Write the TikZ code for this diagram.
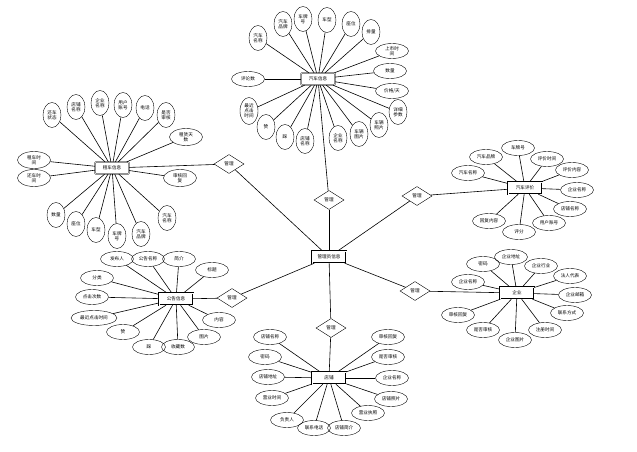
\documentclass[tikz,border=0pt]{standalone}
\usepackage{fontspec}
\newfontfamily\cjk{Noto Sans CJK SC}
\usepackage{tikz}
\usetikzlibrary{shapes.geometric}

\begin{document}
\begin{tikzpicture}[
      x=1pt, y=-1pt,
      every node/.style={font=\cjk\fontsize{4.6}{5.2}\selectfont},
      entbox/.style={
        rectangle, draw, double, double distance=0.6pt,
        minimum width=34pt, minimum height=12pt, inner sep=1pt, fill=white
      },
      relbox/.style={
        diamond, draw, aspect=1.6, inner sep=0pt,
        minimum width=30pt, minimum height=19pt, fill=white
      },
      attr/.style={
        ellipse, draw, inner sep=0pt, align=center,
        minimum width=33pt, minimum height=15pt
      },
      vattr/.style={
        ellipse, draw, inner sep=0pt, align=center,
        minimum width=18pt, minimum height=25pt
      },
      link/.style={semithick}
    ]
    \useasboundingbox (0,0) rectangle (637,452);

    % ===== Centre and relationships =====
    \node[entbox] (admin) at (329,257) {管理员信息};
    \node[relbox] (m1) at (329,200) {管理};
    \node[relbox] (m2) at (229,164) {管理};
    \node[relbox] (m3) at (417,196) {管理};
    \node[relbox] (m4) at (415,291) {管理};
    \node[relbox] (m5) at (331,328) {管理};
    \node[relbox] (m6) at (232,298) {管理};

    % ===== Entities =====
    \node[entbox, rounded corners=1pt] (car) at (318,79) {汽车信息};
    \node[entbox, rounded corners=1pt] (rent) at (112,168) {租车信息};
    \node[entbox] (eval) at (525,188) {汽车评价};
    \node[entbox] (firm) at (517,293) {企业};
    \node[entbox] (shop) at (329,378) {店铺};
    \node[entbox] (notice) at (176,299) {公告信息};

    % ===== Car info attributes =====
    \node[vattr] (c1) at (258,38) {汽车\\名称};
    \node[vattr] (c2) at (283,24) {汽车\\品牌};
    \node[vattr] (c3) at (303,19) {车牌\\号};
    \node[vattr] (c4) at (327,20) {车型};
    \node[vattr] (c5) at (351,24) {座位};
    \node[vattr] (c6) at (371,32) {排量};
    \node[attr] (c7) at (392,51) {上市时\\间};
    \node[attr] (c8) at (390,71) {数量};
    \node[attr] (c9) at (392,91) {价格/天};
    \node[attr] (c10) at (248,79) {评论数};
    \node[vattr, minimum height=27pt] (c11) at (249,111) {最近\\点击\\时间};
    \node[vattr] (c12) at (266,127) {赞};
    \node[vattr] (c13) at (285,137) {踩};
    \node[vattr] (c14) at (305,141) {店铺\\名称};
    \node[vattr] (c15) at (338,138) {企业\\名称};
    \node[vattr] (c16) at (359,134) {车辆\\图片};
    \node[vattr] (c17) at (379,125) {车辆\\照片};
    \node[vattr] (c18) at (398,112) {详细\\参数};

    % ===== Rental info attributes =====
    \node[vattr] (r1) at (52,115) {还车\\状态};
    \node[vattr] (r2) at (76,107) {店铺\\名称};
    \node[vattr] (r3) at (100,103) {企业\\名称};
    \node[vattr] (r4) at (123,105) {用户\\账号};
    \node[vattr] (r5) at (145,108) {电话};
    \node[vattr] (r6) at (166,115) {是否\\审核};
    \node[attr, minimum height=17pt] (r7) at (186,137) {租赁天\\数};
    \node[attr, minimum height=17pt] (r8) at (34,160) {租车时\\间};
    \node[attr, minimum height=17pt] (r9) at (34,178) {还车时\\间};
    \node[attr, minimum height=17pt] (r10) at (180,178) {审核回\\复};
    \node[vattr] (r11) at (56,215) {数量};
    \node[vattr] (r12) at (76,224) {座位};
    \node[vattr] (r13) at (96,230) {车型};
    \node[vattr] (r14) at (117,236) {车牌\\号};
    \node[vattr] (r15) at (141,234) {汽车\\品牌};
    \node[vattr] (r16) at (167,218) {汽车\\名称};

    % ===== Car review attributes =====
    \node[attr] (e1) at (468,173) {汽车名称};
    \node[attr] (e2) at (486,157) {汽车品牌};
    \node[attr] (e3) at (518,148) {车牌号};
    \node[attr] (e4) at (547,159) {评价时间};
    \node[attr] (e5) at (572,170) {评价内容};
    \node[attr] (e6) at (577,190) {企业名称};
    \node[attr] (e7) at (570,209) {店铺名称};
    \node[attr] (e8) at (549,223) {用户账号};
    \node[attr] (e9) at (519,232) {评分};
    \node[attr] (e10) at (489,221) {回复内容};

    % ===== Company attributes =====
    \node[attr] (f1) at (468,282) {企业名称};
    \node[attr] (f2) at (483,264) {密码};
    \node[attr] (f3) at (511,257) {企业地址};
    \node[attr] (f4) at (541,266) {企业行业};
    \node[attr] (f5) at (570,276) {法人代表};
    \node[attr] (f6) at (575,295) {企业邮箱};
    \node[attr] (f7) at (567,313) {联系方式};
    \node[attr] (f8) at (545,330) {注册时间};
    \node[attr] (f9) at (515,340) {企业图片};
    \node[attr] (f10) at (483,330) {是否审核};
    \node[attr] (f11) at (458,315) {审核回复};

    % ===== Shop attributes =====
    \node[attr] (s1) at (270,337) {店铺名称};
    \node[attr] (s2) at (265,357) {密码};
    \node[attr] (s3) at (268,377) {店铺地址};
    \node[attr] (s4) at (272,398) {营业时间};
    \node[attr] (s5) at (287,420) {负责人};
    \node[attr] (s6) at (314,428) {联系电话};
    \node[attr] (s7) at (344,428) {店铺简介};
    \node[attr] (s8) at (368,413) {营业执照};
    \node[attr] (s9) at (391,399) {店铺照片};
    \node[attr] (s10) at (392,378) {企业名称};
    \node[attr] (s11) at (388,357) {是否审核};
    \node[attr] (s12) at (388,337) {审核回复};

    % ===== Notice attributes =====
    \node[attr] (n1) at (117,259) {发布人};
    \node[attr] (n2) at (148,259) {公告名称};
    \node[attr] (n3) at (179,259) {简介};
    \node[attr] (n4) at (212,270) {标题};
    \node[attr] (n5) at (97,278) {分类};
    \node[attr] (n6) at (92,297) {点击次数};
    \node[attr, minimum width=46pt] (n7) at (94,318) {最近点击时间};
    \node[attr] (n8) at (123,332) {赞};
    \node[attr] (n9) at (149,347) {踩};
    \node[attr] (n10) at (178,347) {收藏数};
    \node[attr] (n11) at (204,337) {图片};
    \node[attr] (n12) at (219,320) {内容};

    % ===== Relationship links =====
    \foreach \r/\e in {m1/car, m2/rent, m3/eval, m4/firm, m5/shop, m6/notice} {
      \draw[link] (admin) -- (\r);
      \draw[link] (\r) -- (\e);
    }

    % ===== Attribute links =====
    \foreach \a in {c1,c2,c3,c4,c5,c6,c7,c8,c9,c10,c11,c12,c13,c14,c15,c16,c17,c18}
      \draw[link] (\a) -- (car);
    \foreach \a in {r1,r2,r3,r4,r5,r6,r7,r8,r9,r10,r11,r12,r13,r14,r15,r16}
      \draw[link] (\a) -- (rent);
    \foreach \a in {e1,e2,e3,e4,e5,e6,e7,e8,e9,e10}
      \draw[link] (\a) -- (eval);
    \foreach \a in {f1,f2,f3,f4,f5,f6,f7,f8,f9,f10,f11}
      \draw[link] (\a) -- (firm);
    \foreach \a in {s1,s2,s3,s4,s5,s6,s7,s8,s9,s10,s11,s12}
      \draw[link] (\a) -- (shop);
    \foreach \a in {n1,n2,n3,n4,n5,n6,n7,n8,n9,n10,n11,n12}
      \draw[link] (\a) -- (notice);
  \end{tikzpicture}
\end{document}
